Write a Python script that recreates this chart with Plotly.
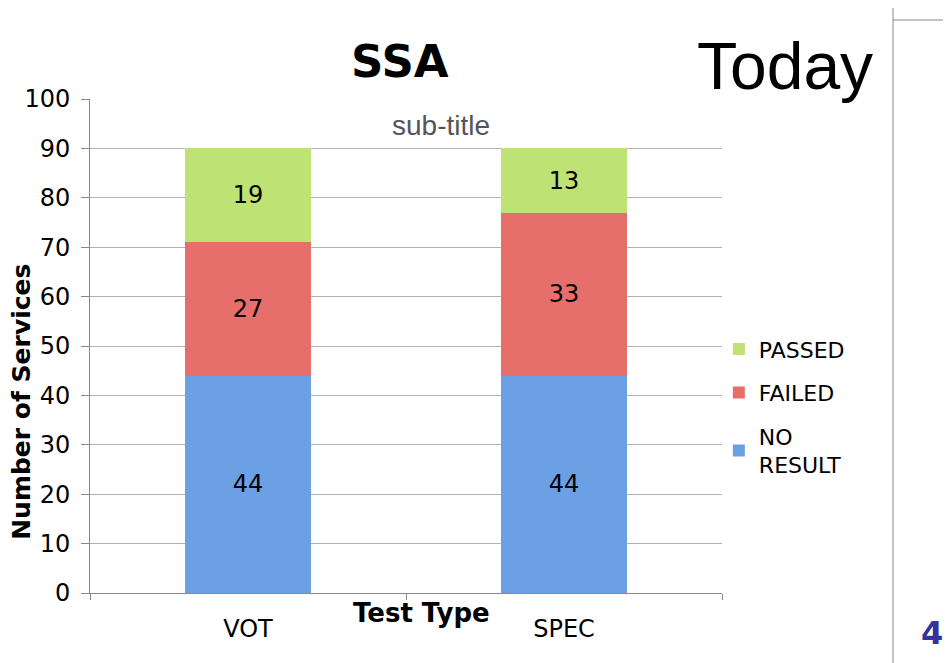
import plotly.graph_objects as go

categories = ["VOT", "SPEC"]
no_result = [44, 44]
failed = [27, 33]
passed = [19, 13]
series_names = ["NO<br>RESULT", "FAILED", "PASSED"]
series_ranks = [3, 2, 1]
series_colors = ["#6ca0e4", "#e66e6b", "#bee273"]
y_ticks = list(range(0, 101, 10))

FONT = "DejaVu Sans"

fig = go.Figure()
for name, vals, col, rk in zip(series_names, [no_result, failed, passed], series_colors, series_ranks):
    fig.add_trace(go.Bar(
        x=categories, y=vals, name=name, legendgroup=name, legendrank=rk,
        marker=dict(color=col, line=dict(width=0)),
        text=[str(v) for v in vals], textposition="inside",
        insidetextanchor="middle",
        textfont=dict(family=FONT, size=24, color="black"),
        width=0.4,
    ))

# page body has an 8px margin, so the figure is sized/offset to compensate
fig.update_layout(
    barmode="stack",
    width=943, height=655,
    margin=dict(l=82, r=229, t=91, b=70, autoexpand=False),
    paper_bgcolor="white", plot_bgcolor="white",
    font=dict(family=FONT, size=23, color="black"),
    showlegend=True,
    legend=dict(
        x=0.995, y=0.536, xanchor="left", yanchor="top",
        traceorder="grouped", tracegroupgap=12,
        font=dict(family=FONT, size=22, color="black"),
        bgcolor="rgba(0,0,0,0)",
    ),
)

fig.update_yaxes(
    range=[0, 100], tickvals=y_ticks, showgrid=True, gridcolor="#b3b3b3", gridwidth=1,
    showline=True, linecolor="#888888", linewidth=1,
    ticks="outside", ticklen=8, tickcolor="#888888",
    tickfont=dict(family=FONT, size=24, color="black"),
    ticklabelstandoff=6,
    zeroline=False, automargin=False,
)
fig.update_xaxes(
    type="category", showline=True, linecolor="#888888", linewidth=1,
    ticks="outside", ticklen=6, tickcolor="#888888", tickson="boundaries",
    tickfont=dict(family=FONT, size=24, color="black"),
    ticklabelstandoff=14, automargin=False,
    range=[-0.5, 1.5],
)

# Titles and annotations
fig.add_annotation(text="<b>Number of Services</b>", xref="paper", yref="paper", x=-0.1076, y=0.387,
                   xanchor="center", yanchor="middle", showarrow=False, textangle=-90,
                   font=dict(family=FONT, size=25, color="black"))
fig.add_annotation(text="<b>SSA</b>", xref="paper", yref="paper", x=0.49, y=1.075,
                   xanchor="center", yanchor="middle", showarrow=False,
                   font=dict(family=FONT, size=45, color="black"))
fig.add_annotation(text="Today", xref="paper", yref="paper", x=1.10, y=1.067,
                   xanchor="center", yanchor="middle", showarrow=False,
                   font=dict(family="Liberation Sans", size=66, color="black"))
fig.add_annotation(text="sub-title", xref="paper", yref="paper", x=0.555, y=0.947,
                   xanchor="center", yanchor="middle", showarrow=False,
                   font=dict(family="Liberation Sans", size=28, color="#555555"))
fig.add_annotation(text="<b>Test Type</b>", xref="paper", yref="paper", x=0.524, y=-0.04,
                   xanchor="center", yanchor="middle", showarrow=False,
                   font=dict(family=FONT, size=26, color="black"))
fig.add_annotation(text="<b>4</b>", xref="paper", yref="paper", x=1.333, y=-0.08,
                   xanchor="center", yanchor="middle", showarrow=False,
                   font=dict(family=FONT, size=32, color="#333399"))

# slide decorations on the right
fig.add_shape(type="line", xref="paper", yref="paper", x0=1.2706, x1=1.2706, y0=-0.1417, y1=1.2004,
              line=dict(color="#888888", width=1))
fig.add_shape(type="line", xref="paper", yref="paper", x0=1.2706, x1=1.36, y0=1.1599, y1=1.1599,
              line=dict(color="#888888", width=1))

fig.write_html("out.html")
